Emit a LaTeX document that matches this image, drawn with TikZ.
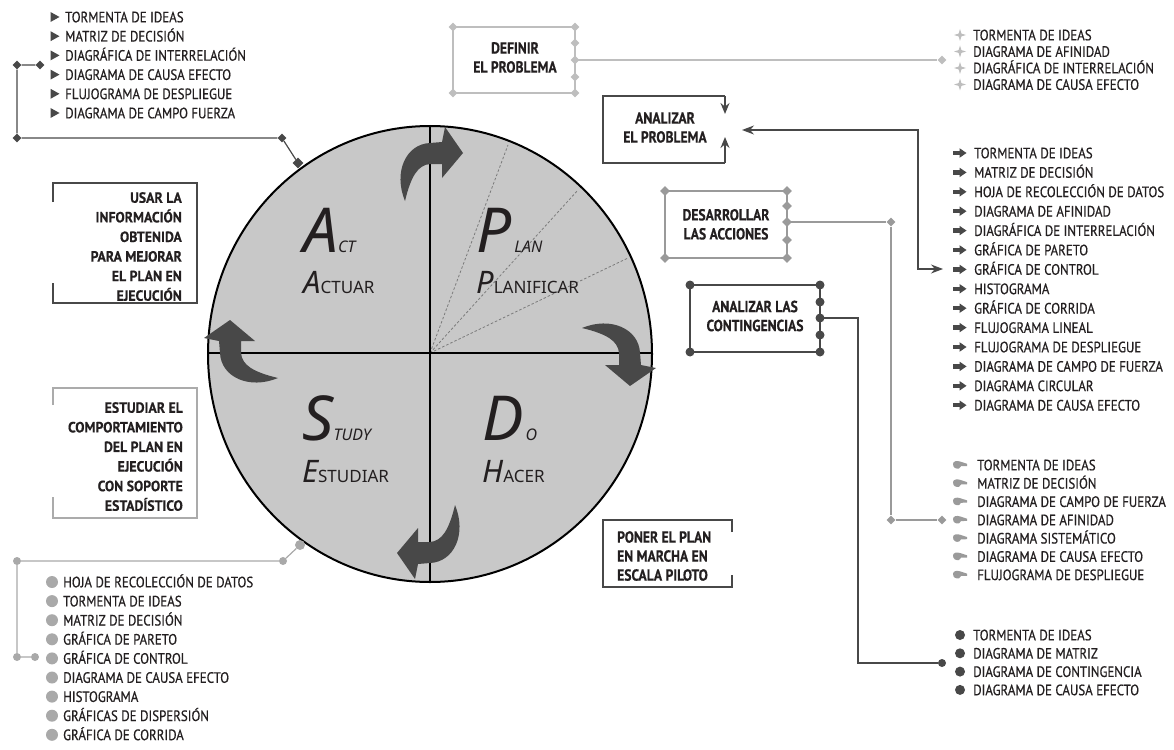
\documentclass[tikz,border=0pt]{standalone}
\usepackage{fontspec}
\usetikzlibrary{shapes.geometric,arrows.meta}
\newfontfamily\lstfont[FakeStretch=0.86,FakeBold=0.6]{PT Sans}
\newfontfamily\boxfont[FakeStretch=0.85,FakeBold=0.4]{PT Sans}
\newfontfamily\sidefont[FakeStretch=0.93,FakeBold=0.4]{PT Sans}
\newfontfamily\pdcafont{Noto Sans}
\definecolor{ink}{HTML}{231F20}
\definecolor{dk}{HTML}{484848}
\definecolor{md}{HTML}{9A9A9A}
\definecolor{lt}{HTML}{BEBEBE}
\definecolor{disc}{HTML}{C8C8C8}
\tikzset{
  lst/.style={anchor=base west, inner sep=0, text=ink, font=\lstfont\fontsize{15}{17}\selectfont},
  lbl/.style={inner sep=0, text=ink, font=\boxfont\bfseries\fontsize{16}{19}\selectfont},
  lblsm/.style={inner sep=0, text=ink, font=\sidefont\bfseries\fontsize{14.8}{19.6}\selectfont},
  pdca/.style={anchor=base west, inner sep=0, text=ink, font=\pdcafont},
  mkd/.style={diamond, fill, inner sep=0, minimum size=9pt},
  mkc/.style={circle, fill, inner sep=0, minimum size=8pt},
  frame/.style={line width=1.4pt},
  link/.style={line width=1.2pt},
  tri/.pic={\fill[dk] (-4.5,-5) -- (4.5,0) -- (-4.5,5) -- cycle;},
  spark/.pic={\fill[lt] (0,-6) -- (1.4,-1.4) -- (6,0) -- (1.4,1.4) -- (0,6) -- (-1.4,1.4) -- (-6,0) -- (-1.4,-1.4) -- cycle;},
  fatarrow/.pic={\fill[dk] (-7,-2.2) rectangle (0,2.2); \fill[dk] (-0.5,-4.8) -- (6.5,0) -- (-0.5,4.8) -- cycle;},
  pointer/.pic={\fill[md] (-7,-1) .. controls (-7,-4) and (-3,-4.5) .. (0,-3.5) -- (7,-1.2) -- (7,1) -- (1,1.2) -- (-1,3.5) .. controls (-4,4) and (-7,3) .. cycle;},
  bigdot/.pic={\fill[dk] (0,0) circle (5pt);},
  greydot/.pic={\fill[md!85] (0,0) circle (6pt);},
}
% one curved cycle arrow, drawn above the centre; rotated for the other three
\newcommand\cyclearrow{\fill[dk] (-25,-152) .. controls (-37,-181) and (-24,-209) .. (0,-210) -- (12,-211) -- (15,-226) -- (33,-200) -- (12,-175) -- (12,-189) -- (0,-189) .. controls (-12,-188) and (-19,-177) .. cycle;}
\begin{document}
\begin{tikzpicture}[x=1pt,y=-1pt]
\useasboundingbox (0,0) rectangle (1174,749);

% ---------- PDCA disc ----------
\coordinate (ctr) at (430,353);
\draw[line width=2pt, fill=disc] (430,354) ellipse [x radius=222pt, y radius=228pt];
\foreach \x/\y in {508/145, 578/190, 628/258}
  \draw[md!80!black, line width=0.8pt, dash pattern=on 2.5pt off 2pt] (ctr) -- (\x,\y);
\draw[line width=2pt] (430,126) -- (430,582);
\draw[line width=2pt] (208,353) -- (652,353);
\foreach \r in {0,-90,-180,-270} {
  \begin{scope}[shift={(ctr)}, rotate=\r] \cyclearrow \end{scope}
}

\node[pdca] (act) at (303,252)
  {\itshape\fontsize{62}{62}\selectfont A\fontsize{16}{16}\selectfont CT};
\node[pdca] (actuar) at (303,293)
  {{\itshape\fontsize{31}{31}\selectfont A}\fontsize{17}{17}\selectfont CTUAR};
\node[pdca] (plan) at (476,252)
  {\itshape\fontsize{62}{62}\selectfont P\hspace{3pt}\fontsize{16}{16}\selectfont LAN};
\node[pdca] (planificar) at (476,293)
  {{\itshape\fontsize{31}{31}\selectfont P}\fontsize{17}{17}\selectfont LANIFICAR};
\node[pdca] (study) at (302,440)
  {\itshape\fontsize{62}{62}\selectfont S\fontsize{16}{16}\selectfont TUDY};
\node[pdca] (estudiar) at (302,482)
  {{\itshape\fontsize{31}{31}\selectfont E}\fontsize{17}{17}\selectfont STUDIAR};
\node[pdca] (do) at (482,440)
  {\itshape\fontsize{62}{62}\selectfont D\hspace{2pt}\fontsize{16}{16}\selectfont O};
\node[pdca] (hacer) at (482,482)
  {{\itshape\fontsize{31}{31}\selectfont H}\fontsize{17}{17}\selectfont ACER};

% ---------- left boxes ----------
\draw[frame, dk] (53,202) -- (53,183) -- (197,183) -- (197,303) -- (53,303) -- (53,283);
\node[lblsm, anchor=north east, align=right] (usar) at (182,192)
  {USAR LA\\INFORMACIÓN\\OBTENIDA\\PARA MEJORAR\\EL PLAN EN\\EJECUCIÓN};
\draw[frame, lt!90!black] (53,405) -- (53,388) -- (197,388) -- (197,518) -- (53,518) -- (53,497);
\node[lblsm, anchor=north east, align=right] (estudiarbox) at (183,402)
  {ESTUDIAR EL\\COMPORTAMIENTO\\DEL PLAN EN\\EJECUCIÓN\\CON SOPORTE\\ESTADÍSTICO};

% ---------- poner el plan ----------
\draw[frame, dk] (732,532) -- (732,520) -- (603,520) -- (603,587) -- (732,587) -- (732,575);
\node[lbl, anchor=north west, align=left] (poner) at (617,531)
  {PONER EL PLAN\\EN MARCHA EN\\ESCALA PILOTO};

% ---------- definir el problema ----------
\node[lbl, anchor=north, align=center] (definir) at (515,42) {DEFINIR\\EL PROBLEMA};
\foreach \n/\x/\y in {f1/453/27, f2/575/27, f3/575/93, f4/453/93, f5/575/43, f6/575/60, f7/575/77}
  \coordinate (\n) at (\x,\y);
\draw[frame, lt] (f1) -- (f2) -- (f3) -- (f4) -- cycle;
\node[mkd, lt] (g1) at (942,60) {};
\draw[link, lt] (f6) -- (g1);
\foreach \n in {f1,f2,f3,f4,f5,f6,f7} \node[mkd, lt] at (\n) {};

% ---------- analizar el problema ----------
\node[lbl, anchor=north, align=center] (analizar) at (665,112) {ANALIZAR\\EL PROBLEMA};
\coordinate (a1) at (725,96); \coordinate (a2) at (603,96);
\coordinate (a3) at (603,163); \coordinate (a4) at (725,163);
\coordinate (a5) at (725,114); \coordinate (a6) at (725,137);
\draw[frame, dk] (a1) -- (a2) -- (a3) -- (a4);
\draw[frame, dk, -{Stealth[length=11pt, width=9pt]}] (a1) -- (a5);
\draw[frame, dk, -{Stealth[length=11pt, width=9pt]}] (a4) -- (a6);

% ---------- desarrollar las acciones ----------
\node[lbl, anchor=north, align=center] (desarrollar) at (726,208.8) {DESARROLLAR\\LAS ACCIONES};
\foreach \n/\x/\y in {d1/665/191, d2/787/191, d3/787/258, d4/665/258, d5/787/206, d6/787/222, d7/787/240}
  \coordinate (\n) at (\x,\y);
\draw[frame, md] (d1) -- (d2) -- (d3) -- (d4) -- cycle;
\node[mkd, md] (k1) at (891,222) {};
\node[mkd, md] (k2) at (891,520) {};
\node[mkd, md] (g3) at (942,520) {};
\draw[link, md] (d6) -- (k1) -- (k2) -- (g3);
\foreach \n in {d1,d2,d3,d4,d5,d6,d7} \node[mkd, md, minimum size=10pt] at (\n) {};

% ---------- analizar las contingencias ----------
\node[lbl, anchor=north, align=center] (contingencias) at (755,300.5) {ANALIZAR LAS\\CONTINGENCIAS};
\foreach \n/\x/\y in {c1/690/285, c2/820/285, c3/820/352, c4/690/352, c5/820/302, c6/820/318, c7/820/335}
  \coordinate (\n) at (\x,\y);
\draw[frame, dk] (c1) -- (c2) -- (c3) -- (c4) -- cycle;
\node[mkc, dk, minimum size=8pt] (g4) at (942,663) {};
\draw[link, dk] (c6) -- (858,318) -- (858,663) -- (g4);
\foreach \n in {c1,c2,c3,c4,c5,c6,c7} \node[mkc, dk, minimum size=9pt] at (\n) {};

% ---------- top-left list (Act) ----------
\foreach \t [count=\i] in {TORMENTA DE IDEAS, MATRIZ DE DECISIÓN, DIAGRÁFICA DE INTERRELACIÓN,
    DIAGRAMA DE CAUSA EFECTO, FLUJOGRAMA DE DESPLIEGUE, DIAGRAMA DE CAMPO FUERZA} {
  \pic at (55,{17+19.2*(\i-1)}) {tri};
  \node[lst] (la-\i) at (65,{22.3+19.2*(\i-1)}) {\t};
}
\node[mkd, dk] (b1) at (17,65) {};
\node[mkd, dk] (b2) at (40,65) {};
\node[mkd, dk] (b3) at (17,138) {};
\node[mkd, dk] (b4) at (282,138) {};
\node[mkd, dk, minimum size=11pt] (b5) at (298,163) {};
\draw[link, dk] (b2) -- (b1) -- (b3) -- (b4) -- (b5);

% ---------- top-right list (Plan: definir) ----------
\foreach \t [count=\i] in {TORMENTA DE IDEAS, DIAGRAMA DE AFINIDAD, DIAGRÁFICA DE INTERRELACIÓN, DIAGRAMA DE CAUSA EFECTO} {
  \pic at (960,{35+16.5*(\i-1)}) {spark};
  \node[lst] (lp-\i) at (973,{40.3+16.5*(\i-1)}) {\t};
}

% ---------- right list (Plan: analizar) ----------
\foreach \t [count=\i] in {TORMENTA DE IDEAS, MATRIZ DE DECISIÓN, HOJA DE RECOLECCIÓN DE DATOS,
    DIAGRAMA DE AFINIDAD, DIAGRÁFICA DE INTERRELACIÓN, GRÁFICA DE PARETO, GRÁFICA DE CONTROL,
    HISTOGRAMA, GRÁFICA DE CORRIDA, FLUJOGRAMA LINEAL, FLUJOGRAMA DE DESPLIEGUE,
    DIAGRAMA DE CAMPO DE FUERZA, DIAGRAMA CIRCULAR, DIAGRAMA DE CAUSA EFECTO} {
  \pic at (960,{153+19.4*(\i-1)}) {fatarrow};
  \node[lst] (lq-\i) at (974,{158.3+19.4*(\i-1)}) {\t};
}
\coordinate (h1) at (742,130);
\coordinate (h2) at (943,269);
\draw[link, dk, {Stealth[length=12pt, width=9pt]}-{Stealth[length=12pt, width=9pt]}]
  (h1) -- (918,130) -- (918,269) -- (h2);

% ---------- right list (Plan: desarrollar) ----------
\foreach \t [count=\i] in {TORMENTA DE IDEAS, MATRIZ DE DECISIÓN, DIAGRAMA DE CAMPO DE FUERZA,
    DIAGRAMA DE AFINIDAD, DIAGRAMA SISTEMÁTICO, DIAGRAMA DE CAUSA EFECTO, FLUJOGRAMA DE DESPLIEGUE} {
  \pic at (960,{465+18.3*(\i-1)}) {pointer};
  \node[lst] (lr-\i) at (977,{470.3+18.3*(\i-1)}) {\t};
}

% ---------- right list (Plan: contingencias) ----------
\foreach \t [count=\i] in {TORMENTA DE IDEAS, DIAGRAMA DE MATRIZ, DIAGRAMA DE CONTINGENCIA, DIAGRAMA DE CAUSA EFECTO} {
  \pic at (960,{635+18.3*(\i-1)}) {bigdot};
  \node[lst] (ls-\i) at (973,{640.3+18.3*(\i-1)}) {\t};
}

% ---------- bottom-left list (Study) ----------
\foreach \t [count=\i] in {HOJA DE RECOLECCIÓN DE DATOS, TORMENTA DE IDEAS, MATRIZ DE DECISIÓN,
    GRÁFICA DE PARETO, GRÁFICA DE CONTROL, DIAGRAMA DE CAUSA EFECTO, HISTOGRAMA,
    GRÁFICAS DE DISPERSIÓN, GRÁFICA DE CORRIDA} {
  \pic at (52,{582+19.1*(\i-1)}) {greydot};
  \node[lst] (lt-\i) at (63,{587.3+19.1*(\i-1)}) {\t};
}
\node[mkc, md!85] (e1) at (17,561) {};
\node[mkc, md!85] (e2) at (283,561) {};
\node[mkc, md!85, minimum size=10pt] (e3) at (300,545) {};
\node[mkc, md!85] (e4) at (17,657) {};
\node[mkc, md!85] (e5) at (35,657) {};
\draw[link, md!85] (e3) -- (e2) -- (e1) -- (e4) -- (e5);
\end{tikzpicture}
\end{document}
